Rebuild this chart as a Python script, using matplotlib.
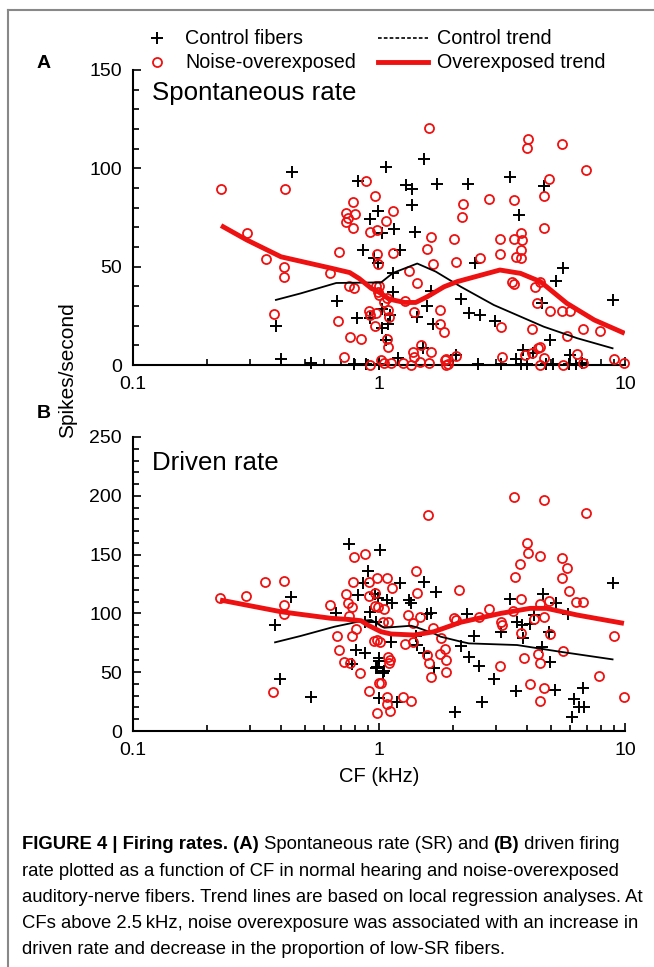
import matplotlib
matplotlib.use('Agg')
import matplotlib.pyplot as plt
from matplotlib.lines import Line2D
from matplotlib.ticker import MultipleLocator, FixedLocator, NullFormatter, LogLocator
import numpy as np

plt.rcParams['font.family'] = ['Liberation Sans', 'DejaVu Sans']

# ---------------- data ----------------
# Panel A: spontaneous rate
ctrlA_cf = [0.442, 0.381, 0.40, 0.53, 0.672, 0.812, 0.922, 0.82, 0.92, 0.99, 0.86, 0.957, 0.99,
            0.79, 0.885, 1.0, 1.53, 1.07, 1.29, 1.36, 1.72, 2.29, 3.41, 4.70, 1.36, 3.7, 1.15,
            1.03, 1.40, 1.22, 2.45, 1.14, 1.14, 1.63, 2.16, 5.59, 5.26, 4.59, 1.57, 1.43, 1.03,
            1.11, 1.03, 1.09, 1.07, 1.65, 2.33, 2.57, 2.96, 4.97, 1.51, 2.06, 3.86, 4.24, 5.95,
            8.93, 1.19, 2.52, 3.12, 3.60, 3.77, 4.0, 4.79, 5.1, 5.9, 6.3, 6.7]
ctrlA_sr = [98, 20, 3, 1, 32.5, 24, 24, 93.6, 74.4, 78.3, 58.5, 54.3, 52,
            0.5, 0.5, 0.5, 104.6, 100.5, 91.4, 89.3, 92, 91.9, 95.4, 91.2, 81.5, 76.3, 69,
            67, 67.8, 58.3, 51.7, 46.6, 37.3, 37.8, 33.6, 49.5, 42.9, 31.4, 30.2, 24.2, 28.3,
            25.4, 19, 21, 12.7, 20.8, 26.3, 25.4, 22.5, 12.7, 8.5, 5.1, 7.6, 5.9, 5.1,
            33.1, 3.7, 0.5, 0.5, 3, 0.5, 0.5, 0.5, 0.5, 0.5, 0.5, 1]

noiseA_cf = [0.228, 0.29, 0.348, 0.41, 0.41, 0.413, 0.373, 0.633, 0.689, 0.68, 0.761, 0.843,
             0.724, 0.756, 0.79, 0.735, 0.751, 0.735, 0.797, 0.785, 0.785, 0.883, 0.96, 0.917,
             0.98, 0.908, 0.975, 0.963, 1.0, 0.98, 0.99,
             1.594, 4.04, 4.0, 5.56, 6.93, 4.89, 4.70, 3.54, 2.81, 2.19, 2.18, 1.14, 1.07, 1.63,
             1.57, 2.02, 2.06, 1.14, 1.66, 2.57, 3.10, 3.10, 3.53, 3.78, 3.8, 3.77, 3.6, 3.77,
             4.70, 1.33, 1.43, 1.27, 1.39, 1.77, 1.77, 1.83, 3.46, 3.54, 4.30, 4.53, 4.39, 4.97,
             5.56, 5.95, 3.12, 4.18, 5.79, 6.74, 7.88, 9.06, 9.95, 4.53, 4.42, 4.17, 6.39, 3.17,
             4.70, 3.93, 1.48, 1.38, 1.39, 1.62, 1.87,
             0.97, 1.0, 0.99, 1.05, 1.08, 0.92, 1.09, 1.1, 1.08, 1.09, 1.9, 1.86,
             0.92, 1.02, 1.05, 1.12, 1.25, 1.35, 1.47, 1.6, 1.88, 2.05, 4.53, 5.6, 6.77]
noiseA_sr = [89.3, 67.3, 53.9, 50, 44.9, 89.5, 25.9, 46.8, 57.3, 22.5, 14.4, 13.2,
             4.2, 40.2, 39.3, 72.6, 74.9, 77.5, 77, 83, 69.7, 93.6, 86, 67.6,
             68.5, 27.3, 26.3, 20, 35.6, 56.4, 51.4,
             120.4, 114.8, 110.5, 112.2, 99.2, 94.6, 86.1, 83.9, 84.4, 82, 75.3, 78.3, 73.2, 65.2,
             59, 63.9, 52.5, 57.1, 51.2, 54.4, 63.9, 56.3, 63.9, 67, 63.6, 58.3, 55.1, 54.4,
             69.8, 47.8, 41.9, 32.5, 27.1, 27.8, 21, 16.6, 42, 41, 39.8, 42.4, 31.4, 27.5,
             27.5, 27.6, 19.2, 18.3, 14.9, 18.5, 17.4, 2.9, 0.8, 9.3, 8.5, 5.9, 5.4, 4.2,
             3.4, 5.1, 10.2, 6.8, 4.2, 6.8, 2.9,
             40.2, 40.2, 37.3, 32.2, 33.9, 25.4, 28, 24.6, 13.1, 9.3, 0.4, 2.5,
             0, 2.5, 0.9, 0.9, 0.9, 0, 1.7, 1.2, 0, 4.7, 0, 0, 0.9]

ctrlA_trend_cf = [0.381, 0.48, 0.67, 1.02, 1.14, 1.43, 1.70, 2.15, 2.93, 4.67, 6.4, 8.9]
ctrlA_trend_sr = [33.1, 36.4, 41.7, 42, 46.8, 51.6, 47.5, 39.8, 30.5, 19.5, 13.6, 8.5]
noiseA_trend_cf = [0.228, 0.29, 0.40, 0.64, 0.76, 0.83, 0.93, 1.0, 1.1, 1.27, 1.41, 1.57, 1.84,
                   2.08, 3.10, 3.76, 4.53, 5.8, 7.5, 9.97]
noiseA_trend_sr = [70.9, 63.6, 55, 49.2, 47, 44, 39, 37, 33.5, 31.8, 31.8, 34.7, 39.8,
                   42.4, 48.3, 46.6, 42.4, 31.4, 22.9, 16.1]

# Panel B: driven rate
ctrlB_cf = [0.44, 0.378, 0.396, 0.527, 0.67, 0.755, 0.82, 0.86, 0.905, 0.81, 0.88, 0.78, 0.875,
            0.975, 0.917, 0.963, 0.99, 1.01, 0.975, 1.0, 1.0,
            1.22, 1.52, 1.71, 1.08, 1.13, 1.33, 1.35, 1.56, 1.62, 1.41, 1.43, 1.53, 1.67, 1.0,
            0.98, 1.05, 1.04, 1.12, 1.18, 2.04,
            4.64, 3.42, 5.25, 5.89, 2.28, 2.43, 2.15, 3.12, 3.64, 3.81, 4.1, 4.26, 4.91, 3.85,
            4.59, 4.94, 2.32, 2.56, 2.93, 3.6, 2.63, 5.2, 6.74, 6.22, 6.5, 6.8, 6.1, 8.9]
ctrlB_dr = [113.9, 89.8, 43.9, 28.6, 100.6, 159.2, 115.3, 126.1, 136, 68.9, 66.6, 57, 92.4,
            92.9, 101.4, 116.5, 112.8, 153.9, 53.3, 61.8, 28.3,
            126.1, 126.7, 117.9, 111.4, 108.5, 111.4, 108.5, 99.5, 100.6, 80.8, 73.1, 66.6, 53.3, 59.8,
            54.7, 51.3, 49.1, 76, 24.7, 15.9,
            116.5, 111.9, 108.5, 99.5, 99.5, 80.8, 72.3, 84.4, 92.9, 90.1, 91, 98.6, 83.9, 78.8,
            71.1, 58.4, 62.6, 55.5, 43.9, 34.3, 24.4, 34.9, 36.8, 27.2, 20.7, 20.7, 12.2, 125.5]

noiseB_cf = [0.226, 0.288, 0.345, 0.41, 0.41, 0.41, 0.371, 0.633, 0.735, 0.747, 0.78, 0.756,
             0.678, 0.685, 0.72, 0.761, 0.78, 0.81, 0.84, 0.79, 0.88, 0.785, 0.908, 0.98, 0.911,
             0.966, 0.96, 0.99, 0.95, 0.98, 0.911, 0.984, 1.0,
             1.585, 1.41, 1.08, 1.13, 1.05, 1.43, 1.31, 1.47, 2.11, 2.02, 2.05, 1.04, 1.09, 1.65,
             1.27, 1.78, 1.85, 1.88, 1.6, 1.88, 1.62, 1.09, 1.11, 1.1, 1.02, 1.08, 1.08, 1.25,
             1.35, 1.11, 1.01,
             3.53, 4.69, 6.93, 4.0, 4.02, 4.5, 3.73, 3.58, 5.53, 5.8, 5.57, 5.92, 6.34, 6.74,
             4.89, 4.52, 3.78, 3.5, 2.81, 2.55, 3.12, 3.16, 4.70, 4.28, 3.78, 4.94, 9.05, 5.6,
             4.43, 4.52, 3.87, 3.10, 7.85, 4.1, 4.69, 4.53, 9.9, 1.77, 1.56, 1.38, 1.37]
noiseB_dr = [112.8, 114.8, 126.7, 127.8, 107.4, 99.5, 33.2, 107.4, 116.5, 108.5, 105.7, 97.8,
             80.8, 68.9, 58.7, 58.1, 80.8, 87, 49.6, 147.9, 150.7, 126.9, 126.9, 129.8, 114.8,
             117.6, 106, 105.7, 76.8, 77.4, 34.3, 15.6, 40.5,
             183.6, 136.3, 129.8, 121.3, 104, 117, 98.6, 97.2, 119.9, 95.8, 94.4, 92.9, 92.9, 87.3,
             73.9, 78.8, 69.7, 60.4, 57.5, 50.4, 46.2, 63.2, 60.4, 58.1, 41.1, 29.2, 23, 28.6,
             25.8, 17, 76,
             198.6, 196.4, 185, 159.5, 151, 148.8, 142.3, 130.6, 146.8, 138.3, 130.3, 119.3, 109.7, 109.7,
             110.8, 108, 112.5, 102.3, 104, 97.2, 92.9, 90.1, 97.2, 94.9, 83.6, 82.2, 80.8, 68.3,
             65.2, 58.1, 62.3, 55.5, 46.8, 40, 36.8, 25.8, 28.9, 65.2, 64.6, 92.1, 75.9]

ctrlB_trend_cf = [0.378, 0.48, 0.66, 0.86, 0.93, 1.05, 1.35, 1.43, 1.67, 1.78, 2.15, 2.32, 3.64, 5.45, 8.9]
ctrlB_trend_dr = [75.4, 80.8, 88.7, 93.8, 94.4, 87.8, 89.5, 88, 83, 80.2, 76, 74.5, 73.1, 67.4, 60.9]
noiseB_trend_cf = [0.226, 0.40, 0.48, 0.64, 0.75, 0.845, 0.9, 1.02, 1.12, 1.39, 1.67, 2.15, 3.12,
                   4.12, 4.8, 6.4, 9.9]
noiseB_trend_dr = [111.4, 101.4, 99.2, 95.8, 94.9, 93.8, 90.1, 84.4, 82.5, 81.6, 84.4, 92.5, 100,
                   104.3, 104.3, 98.6, 91.5]

xticks = [0.1, 1, 10]
xticklabels = ['0.1', '1', '10']

# ---------------- figure ----------------
W, H = 654, 967
fig = plt.figure(figsize=(W / 100, H / 100), dpi=100)

def fx(px):
    return px / W

def fy(py):
    return 1 - py / H

axA = fig.add_axes([fx(133), fy(365), fx(625) - fx(133), fy(70) - fy(365)])
axB = fig.add_axes([fx(133), fy(731), fx(625) - fx(133), fy(437) - fy(731)])

RED = '#ee1111'

def style(ax, ymax):
    ax.set_xscale('log')
    ax.set_xlim(0.1, 10)
    ax.set_ylim(0, ymax)
    for s in ['top', 'right']:
        ax.spines[s].set_visible(False)
    for s in ['left', 'bottom']:
        ax.spines[s].set_linewidth(1.5)
    ax.xaxis.set_major_locator(FixedLocator(xticks))
    ax.set_xticklabels(xticklabels)
    ax.xaxis.set_minor_locator(LogLocator(base=10, subs=np.arange(2, 10)))
    ax.xaxis.set_minor_formatter(NullFormatter())
    ax.yaxis.set_major_locator(MultipleLocator(50))
    ax.yaxis.set_minor_locator(MultipleLocator(10))
    ax.tick_params(which='both', direction='in', labelsize=14, width=1.2)
    ax.tick_params(which='major', length=6, pad=8)
    ax.tick_params(which='minor', length=4)

def draw(ax, ccf, cv, ncf, nv, tccf, tcv, tncf, tnv):
    ax.plot(ccf, cv, linestyle='none', marker='+', color='black', markersize=9,
            markeredgewidth=1.4, clip_on=False, zorder=3)
    ax.plot(ncf, nv, linestyle='none', marker='o', markerfacecolor='none',
            markeredgecolor=RED, markersize=6.5, markeredgewidth=1.3, clip_on=False, zorder=3)
    ax.plot(tccf, tcv, color='black', lw=1.3, zorder=4)
    ax.plot(tncf, tnv, color=RED, lw=3.5, zorder=5, solid_capstyle='butt')

style(axA, 150)
style(axB, 250)
draw(axA, ctrlA_cf, ctrlA_sr, noiseA_cf, noiseA_sr,
     ctrlA_trend_cf, ctrlA_trend_sr, noiseA_trend_cf, noiseA_trend_sr)
draw(axB, ctrlB_cf, ctrlB_dr, noiseB_cf, noiseB_dr,
     ctrlB_trend_cf, ctrlB_trend_dr, noiseB_trend_cf, noiseB_trend_dr)

axA.text(fx(152), fy(100), 'Spontaneous rate', transform=fig.transFigure, fontsize=18.6,
         va='baseline', ha='left')
axB.text(fx(152), fy(470), 'Driven rate', transform=fig.transFigure, fontsize=18.6,
         va='baseline', ha='left')

axB.set_xlabel('CF (kHz)', fontsize=14.5, labelpad=6)

fig.text(fx(68), fy(370), 'Spikes/second', rotation=90, fontsize=15, ha='center', va='center')
fig.text(fx(37), fy(63), 'A', fontsize=14, fontweight='bold', ha='left', va='center')
fig.text(fx(37), fy(414), 'B', fontsize=14, fontweight='bold', ha='left', va='center')

# legend (manual)
fig.add_artist(Line2D([fx(157)], [fy(38)], marker='+', color='black', markersize=9,
                      markeredgewidth=1.4, transform=fig.transFigure))
fig.add_artist(Line2D([fx(157)], [fy(62)], marker='o', markerfacecolor='none',
                      markeredgecolor=RED, markersize=6.5, markeredgewidth=1.3,
                      transform=fig.transFigure))
fig.add_artist(Line2D([fx(378), fx(428)], [fy(38), fy(38)], color='black', lw=1.2,
                      linestyle=(0, (2.2, 1.3)), transform=fig.transFigure))
fig.add_artist(Line2D([fx(378), fx(428)], [fy(62), fy(62)], color=RED, lw=3.5,
                      transform=fig.transFigure))
fig.text(fx(185), fy(38), 'Control fibers', fontsize=14.2, va='center', ha='left')
fig.text(fx(185), fy(62), 'Noise-overexposed', fontsize=14.2, va='center', ha='left')
fig.text(fx(437), fy(38), 'Control trend', fontsize=14.2, va='center', ha='left')
fig.text(fx(437), fy(62), 'Overexposed trend', fontsize=14.2, va='center', ha='left')

# border
fig.add_artist(Line2D([fx(8), 1.0], [fy(10), fy(10)], color='#888888', lw=1.5,
                      transform=fig.transFigure))
fig.add_artist(Line2D([fx(8), fx(8)], [fy(10), 0.0], color='#888888', lw=1.5,
                      transform=fig.transFigure))

# caption
cap_font = ['Liberation Sans Narrow', 'Liberation Sans', 'DejaVu Sans']
cap_size = 13.3
line1 = [('FIGURE 4 | Firing rates. (A)', 'bold'), (' Spontaneous rate (SR) and ', 'normal'),
         ('(B)', 'bold'), (' driven firing', 'normal')]
other_lines = ['rate plotted as a function of CF in normal hearing and noise-overexposed',
               'auditory-nerve fibers. Trend lines are based on local regression analyses. At',
               'CFs above 2.5\u2009kHz, noise overexposure was associated with an increase in',
               'driven rate and decrease in the proportion of low-SR fibers.']
base_y = [849, 876, 902, 928, 954]

fig.canvas.draw()
renderer = fig.canvas.get_renderer()
x = fx(22)
for txt, wt in line1:
    t = fig.text(x, fy(base_y[0]), txt, fontsize=cap_size, fontweight=wt, family=cap_font,
                 va='baseline', ha='left')
    bb = t.get_window_extent(renderer)
    x = bb.x1 / (W)
for i, txt in enumerate(other_lines):
    fig.text(fx(22), fy(base_y[i + 1]), txt, fontsize=cap_size, family=cap_font,
             va='baseline', ha='left')

fig.savefig('out.png', dpi=100)
